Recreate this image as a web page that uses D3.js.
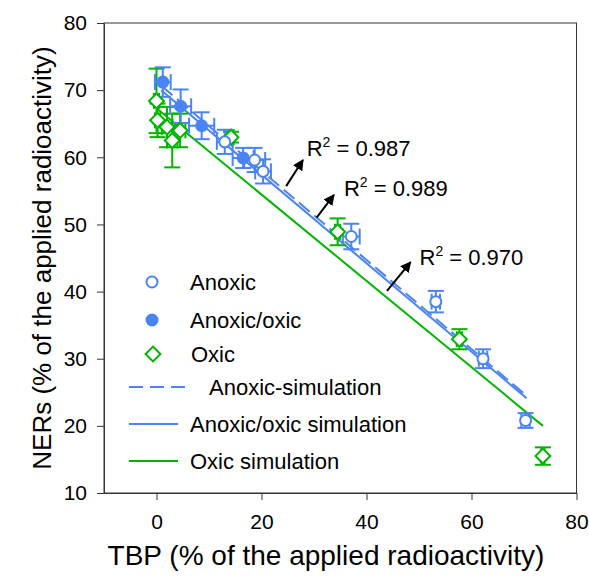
<!DOCTYPE html>
<html>
<head>
<meta charset="utf-8">
<script src="https://cdn.jsdelivr.net/npm/d3@7"></script>
<style>
  body { margin: 0; background: #fff; }
  text { font-family: Arial, "Liberation Sans", sans-serif; fill: #000; }
</style>
</head>
<body>
<script>
// Anoxic (open circles)
var anoxicX    = [13.0, 18.7, 20.3, 37.1, 53.2, 62.2, 70.3];
var anoxicY    = [62.3, 59.6, 57.9, 48.2, 38.5, 30.0, 20.8];
var anoxicXErr = [1.5, 2.0, 1.5, 1.6, 0.8, 0.8, 0.8];
var anoxicYErr = [1.8, 1.8, 1.8, 1.9, 1.6, 1.4, 1.1];

// Anoxic/oxic (filled circles)
var mixedX    = [1.2, 4.6, 8.6, 16.5];
var mixedY    = [71.2, 67.6, 64.7, 59.9];
var mixedXErr = [1.5, 2.0, 2.4, 2.0];
var mixedYErr = [2.2, 2.5, 2.0, 1.5];

// Oxic (diamonds)
var oxicX    = [0.0, 0.2, 2.0, 3.0, 4.5, 14.2, 34.5, 57.7, 73.6];
var oxicY    = [68.4, 65.5, 64.5, 62.5, 64.0, 63.0, 48.9, 32.9, 15.5];
var oxicXErr = [0.5, 0.5, 1.0, 1.0, 1.0, 0.5, 0.5, 0.5, 0.3];
var oxicYErr = [4.8, 2.5, 3.0, 4.0, 2.5, 0.8, 2.0, 1.5, 1.3];

// simulation lines
var anoxicSimX = [1.0, 70.0];
var anoxicSimY = [70.6, 24.8];
var mixedSimX  = [0.9, 70.5];
var mixedSimY  = [70.0, 24.1];
var oxicSimX   = [0.0, 73.6];
var oxicSimY   = [67.3, 20.0];

// R2 annotations: label, text position, arrow tail, arrow tip (data units)
var r2Labels = ["0.987", "0.989", "0.970"];
var r2TextX  = [28.6, 35.7, 50.1];
var r2TextY  = [60.2, 54.3, 44.0];
var r2TailX  = [24.7, 30.5, 43.9];
var r2TailY  = [55.7, 51.0, 40.1];
var r2TipX   = [27.9, 33.8, 48.4];
var r2TipY   = [59.6, 54.4, 44.4];

var xTicks = [0, 20, 40, 60, 80];
var yTicks = [10, 20, 30, 40, 50, 60, 70, 80];

var blue = "#4a84f4";
var green = "#00b400";

var w = 589, h = 578;
var svg = d3.select("body").append("svg")
    .attr("width", w)
    .attr("height", h);

var xScale = d3.scaleLinear().domain([-10, 80]).range([104, 576.5]);
var yScale = d3.scaleLinear().domain([10, 80]).range([493, 23]);

var defs = svg.append("defs");
defs.append("marker")
    .attr("id", "arrow")
    .attr("viewBox", "0 0 10 10")
    .attr("refX", 9).attr("refY", 5)
    .attr("markerWidth", 5.5).attr("markerHeight", 5.5)
    .attr("orient", "auto")
    .append("path")
    .attr("d", "M0,0 L10,5 L0,10 Z")
    .attr("fill", "#000");

// frame
svg.append("rect")
    .attr("x", xScale(-10)).attr("y", yScale(80))
    .attr("width", xScale(80) - xScale(-10))
    .attr("height", yScale(10) - yScale(80))
    .attr("fill", "none")
    .attr("stroke", "#333")
    .attr("stroke-width", 1);

// axes
var xAxis = svg.append("g")
    .attr("transform", "translate(0," + yScale(10) + ")")
    .call(d3.axisBottom(xScale).tickValues(xTicks).tickSize(7).tickSizeOuter(0).tickPadding(14));
var yAxis = svg.append("g")
    .attr("transform", "translate(" + xScale(-10) + ",0)")
    .call(d3.axisLeft(yScale).tickValues(yTicks).tickSize(7).tickSizeOuter(0).tickPadding(10));
[xAxis, yAxis].forEach(function (a) {
    a.select(".domain").attr("stroke", "#333");
    a.selectAll(".tick line").attr("stroke", "#333");
    a.selectAll("text").attr("font-size", 21).attr("font-family", "Arial, 'Liberation Sans', sans-serif").attr("fill", "#000");
});

// axis titles
svg.append("text")
    .attr("x", 326).attr("y", 565)
    .attr("text-anchor", "middle")
    .attr("font-size", 28)
    .text("TBP (% of the applied radioactivity)");
svg.append("text")
    .attr("transform", "translate(51,258) rotate(-90)")
    .attr("text-anchor", "middle")
    .attr("font-size", 26)
    .text("NERs (% of the applied radioactivity)");

var plot = svg.append("g");

// simulation lines
var line = d3.line()
    .x(function (d) { return xScale(d[0]); })
    .y(function (d) { return yScale(d[1]); });

plot.append("path")
    .datum(d3.zip(mixedSimX, mixedSimY))
    .attr("d", line)
    .attr("fill", "none")
    .attr("stroke", blue)
    .attr("stroke-width", 2);
plot.append("path")
    .datum(d3.zip(anoxicSimX, anoxicSimY))
    .attr("d", line)
    .attr("fill", "none")
    .attr("stroke", blue)
    .attr("stroke-width", 2)
    .attr("stroke-dasharray", "14,6");
plot.append("path")
    .datum(d3.zip(oxicSimX, oxicSimY))
    .attr("d", line)
    .attr("fill", "none")
    .attr("stroke", green)
    .attr("stroke-width", 2);

// error bars
function errorBars(xs, ys, xe, ye, color) {
    var g = plot.append("g").attr("stroke", color).attr("stroke-width", 2).attr("fill", "none");
    var cap = 8;
    d3.range(xs.length).forEach(function (i) {
        var cx = xScale(xs[i]), cy = yScale(ys[i]);
        var y0 = yScale(ys[i] - ye[i]), y1 = yScale(ys[i] + ye[i]);
        var x0 = xScale(xs[i] - xe[i]), x1 = xScale(xs[i] + xe[i]);
        g.append("line").attr("x1", cx).attr("x2", cx).attr("y1", y0).attr("y2", y1);
        g.append("line").attr("x1", cx - cap).attr("x2", cx + cap).attr("y1", y0).attr("y2", y0);
        g.append("line").attr("x1", cx - cap).attr("x2", cx + cap).attr("y1", y1).attr("y2", y1);
        g.append("line").attr("x1", x0).attr("x2", x1).attr("y1", cy).attr("y2", cy);
        g.append("line").attr("x1", x0).attr("x2", x0).attr("y1", cy - cap).attr("y2", cy + cap);
        g.append("line").attr("x1", x1).attr("x2", x1).attr("y1", cy - cap).attr("y2", cy + cap);
    });
}
errorBars(oxicX, oxicY, oxicXErr, oxicYErr, green);
errorBars(anoxicX, anoxicY, anoxicXErr, anoxicYErr, blue);
errorBars(mixedX, mixedY, mixedXErr, mixedYErr, blue);

// markers
var diamond = d3.symbol().type(d3.symbolSquare).size(110);
plot.selectAll(".oxic")
    .data(d3.zip(oxicX, oxicY))
    .enter().append("path")
    .attr("class", "oxic")
    .attr("d", diamond)
    .attr("transform", function (d) { return "translate(" + xScale(d[0]) + "," + yScale(d[1]) + ") rotate(45)"; })
    .attr("fill", "#fff")
    .attr("stroke", green)
    .attr("stroke-width", 2);

plot.selectAll(".anoxic")
    .data(d3.zip(anoxicX, anoxicY))
    .enter().append("circle")
    .attr("class", "anoxic")
    .attr("cx", function (d) { return xScale(d[0]); })
    .attr("cy", function (d) { return yScale(d[1]); })
    .attr("r", 5.5)
    .attr("fill", "#fff")
    .attr("stroke", blue)
    .attr("stroke-width", 2);

plot.selectAll(".mixed")
    .data(d3.zip(mixedX, mixedY))
    .enter().append("circle")
    .attr("class", "mixed")
    .attr("cx", function (d) { return xScale(d[0]); })
    .attr("cy", function (d) { return yScale(d[1]); })
    .attr("r", 6.5)
    .attr("fill", blue);

// R2 annotations
r2Labels.forEach(function (lab, i) {
    svg.append("line")
        .attr("x1", xScale(r2TailX[i])).attr("y1", yScale(r2TailY[i]))
        .attr("x2", xScale(r2TipX[i])).attr("y2", yScale(r2TipY[i]))
        .attr("stroke", "#000")
        .attr("stroke-width", 2)
        .attr("marker-end", "url(#arrow)");
    var t = svg.append("text")
        .attr("x", xScale(r2TextX[i]))
        .attr("y", yScale(r2TextY[i]))
        .attr("font-size", 22);
    t.append("tspan").text("R");
    t.append("tspan").attr("dy", -9).attr("font-size", 14).text("2");
    t.append("tspan").attr("dy", 9).text(" = " + lab);
});

// legend
var legend = svg.append("g");
var legX = 129, legTextX = 190;
var legRows = [
    {label: "Anoxic", y: 282, kind: "open"},
    {label: "Anoxic/oxic", y: 320, kind: "filled"},
    {label: "Oxic", y: 354, kind: "diamond", tx: 191},
    {label: "Anoxic-simulation", y: 387, kind: "dash", tx: 209},
    {label: "Anoxic/oxic simulation", y: 424, kind: "solid"},
    {label: "Oxic simulation", y: 461, kind: "green"}
];
legRows.forEach(function (r) {
    if (r.kind === "open") {
        legend.append("circle").attr("cx", 152).attr("cy", r.y).attr("r", 5.5)
            .attr("fill", "#fff").attr("stroke", blue).attr("stroke-width", 2);
    } else if (r.kind === "filled") {
        legend.append("circle").attr("cx", 152).attr("cy", r.y).attr("r", 6.5).attr("fill", blue);
    } else if (r.kind === "diamond") {
        legend.append("path").attr("d", diamond)
            .attr("transform", "translate(153," + r.y + ") rotate(45)")
            .attr("fill", "#fff").attr("stroke", green).attr("stroke-width", 2);
    } else {
        legend.append("line")
            .attr("x1", legX).attr("x2", r.kind === "dash" ? 187 : 178)
            .attr("y1", r.y).attr("y2", r.y)
            .attr("stroke", r.kind === "green" ? green : blue)
            .attr("stroke-width", 2)
            .attr("stroke-dasharray", r.kind === "dash" ? "14,7" : null);
    }
    legend.append("text")
        .attr("x", r.tx || legTextX)
        .attr("y", r.y)
        .attr("dy", "0.35em")
        .attr("font-size", 22)
        .text(r.label);
});
</script>
</body>
</html>
